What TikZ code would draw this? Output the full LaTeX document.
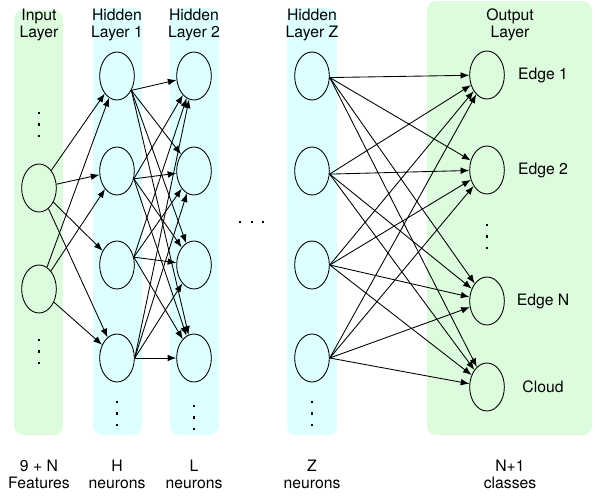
\documentclass[tikz,border=0pt]{standalone}
\usepackage{fontspec}
\setmainfont{TeX Gyre Heros}
\usepackage{tikz}
\usetikzlibrary{arrows.meta,shapes.geometric}
\definecolor{cgreen}{RGB}{221,251,221}
\definecolor{ccyan}{RGB}{221,255,255}

\begin{document}
\begin{tikzpicture}[x=0.75pt,y=-0.75pt,>={Latex[length=6.5pt,width=5pt]},
  line width=0.65pt,unit node/.style={ellipse,draw,minimum width=26pt,minimum height=36pt,inner sep=0pt},
        band/.style={rounded corners=7pt,draw=none},
        label node/.style={align=center,font=\fontsize{11.8}{12.6}\selectfont}]
  \useasboundingbox (0,0) rectangle (595,496);

  % layer backgrounds
  \fill[band,cgreen] (14,10) rectangle (63,435);
  \fill[band,ccyan] (93,8) rectangle (142,435);
  \fill[band,ccyan] (170,8) rectangle (219,435);
  \fill[band,ccyan] (287,8) rectangle (337,435);
  \fill[band,cgreen] (427,1) rectangle (592,435);

  % headers
  \node[label node] (t1) at (39,25) {Input\\Layer};
  \node[label node] (t2) at (117,25) {Hidden\\Layer 1};
  \node[label node] (t3) at (194,25) {Hidden\\Layer 2};
  \node[label node] (t4) at (312,25) {Hidden\\Layer Z};
  \node[label node] (t5) at (510,25) {Output\\Layer};

  % neurons
  \node[unit node] (i1) at (39,188) {};
  \node[unit node] (i2) at (39,289) {};
  \foreach \n/\y in {1/76,2/171,3/265,4/358} {
    \node[unit node] (h\n) at (117,\y) {};
    \node[unit node] (l\n) at (194,\y) {};
    \node[unit node] (z\n) at (312,\y) {};
  }
  \node[unit node] (o1) at (487,75) {};
  \node[unit node] (o2) at (487,170) {};
  \node[unit node] (o3) at (487,301) {};
  \node[unit node] (o4) at (487,387) {};

  \node[label node] (e1) at (543,75) {Edge 1};
  \node[label node] (e2) at (543,170) {Edge 2};
  \node[label node] (e3) at (543,301) {Edge N};
  \node[label node] (e4) at (543,387) {Cloud};

  % dots
  \foreach \x/\y in {39/113,39/340,117/402,194/406,312/402,487/225}
    \foreach \k in {0,11.5,23}
      \fill (\x-1.2,\y+\k-1.2) rectangle (\x+1.2,\y+\k+1.2);
  \foreach \x in {240,252,263}
    \fill (\x-1.2,222-1.2) rectangle (\x+1.2,222+1.2);

  % footers
  \node[label node] (b1) at (39,474) {9 + N\\Features};
  \node[label node] (b2) at (117,474) {H\\neurons};
  \node[label node] (b3) at (194,474) {L\\neurons};
  \node[label node] (b4) at (312,474) {Z\\neurons};
  \node[label node] (b5) at (510,474) {N+1\\classes};

  \path[->]
    (i1) edge (h1) (i1) edge (h2) (i1) edge (h3) (i1) edge (h4)
    (i2) edge (h1) (i2) edge (h2) (i2) edge (h4)
    (h1.-45) edge (l1) (h1.-45) edge (l2) (h1.-45) edge (l3) (h1.-45) edge (l4)
    (h2.-25) edge (l1) (h2.-25) edge (l2) (h2.-25) edge (l3) (h2.-25) edge (l4)
    (h3.25) edge (l1) (h3.25) edge (l2) (h3.25) edge (l3) (h3.25) edge (l4)
    (h4.east) edge (l1) (h4.east) edge (l2) (h4.east) edge (l3) (h4.east) edge (l4)
    (z1.-5) edge (o1) (z1.-5) edge (o2) (z1.-5) edge (o3) (z1.-5) edge (o4)
    (z2.-10) edge (o1) (z2.-10) edge (o2) (z2.-10) edge (o3) (z2.-10) edge (o4)
    (z3.east) edge (o1) (z3.east) edge (o2) (z3.east) edge (o3) (z3.east) edge (o4)
    (z4.east) edge (o1) (z4.east) edge (o2) (z4.east) edge (o3) (z4.east) edge (o4);
\end{tikzpicture}
\end{document}
